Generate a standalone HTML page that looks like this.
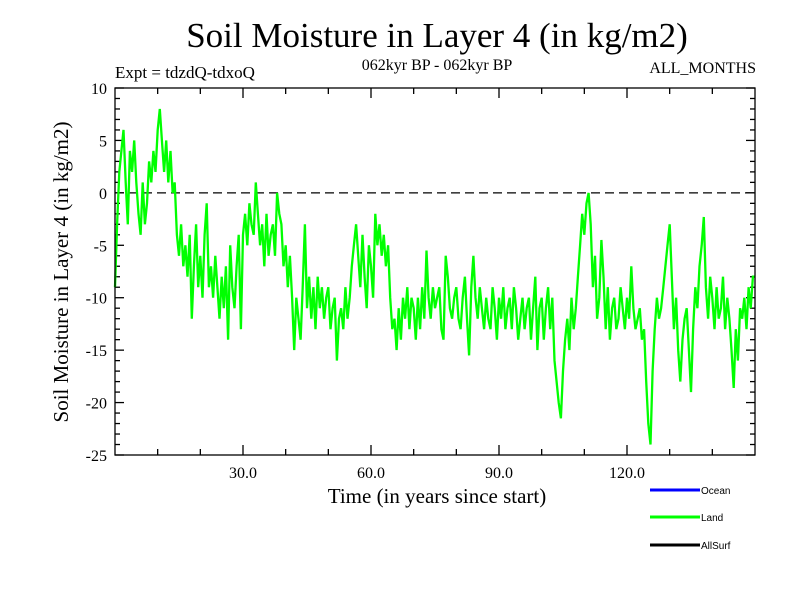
<!DOCTYPE html>
<html><head><meta charset="utf-8"><style>
body{margin:0;background:#fff;}
svg text{font-family:"Liberation Serif",serif;}
</style></head><body>
<svg id="chart" width="800" height="600" xmlns="http://www.w3.org/2000/svg">
<rect width="800" height="600" fill="#fff"/>
<text x="437" y="47" font-size="35" text-anchor="middle">Soil Moisture in Layer 4 (in kg/m2)</text>
<text x="115" y="78" font-size="17">Expt = tdzdQ-tdxoQ</text>
<text x="437" y="70" font-size="16" text-anchor="middle">062kyr BP - 062kyr BP</text>
<text x="756" y="73" font-size="16" text-anchor="end">ALL_MONTHS</text>
<text transform="translate(68,272) rotate(-90)" font-size="21" text-anchor="middle">Soil Moisture in Layer 4 (in kg/m2)</text>
<text x="437" y="503" font-size="21" text-anchor="middle">Time (in years since start)</text>
<g id="ticks"></g>
<line id="zero" stroke="#000" stroke-width="1.3" stroke-dasharray="9,5"/>
<polyline id="land" fill="none" stroke="#00ff00" stroke-width="2.3"/>
<rect x="115" y="88" width="640" height="367" fill="none" stroke="#000" stroke-width="1.3"/>
<g>
<line x1="650" y1="490" x2="700" y2="490" stroke="#0000ff" stroke-width="3"/>
<text x="701" y="494" font-size="10" style="font-family:'Liberation Sans',sans-serif">Ocean</text>
<line x1="650" y1="517" x2="700" y2="517" stroke="#00ff00" stroke-width="3"/>
<text x="701" y="521" font-size="10" style="font-family:'Liberation Sans',sans-serif">Land</text>
<line x1="650" y1="545" x2="700" y2="545" stroke="#000" stroke-width="3"/>
<text x="701" y="549" font-size="10" style="font-family:'Liberation Sans',sans-serif">AllSurf</text>
</g>
</svg>
<script>
const yTicks=[10,5,0,-5,-10,-15,-20,-25];
const xTickLabels=[30,60,90,120];
const timeStep=0.5;
const landValues=[-9,-3,2,4,6,1,-3,4,2,5,1,-2,-4,1,-3,-1,3,1,4,2,6,8,5,2,5,1,4,0,1,-4,
-6,-3,-7,-5,-8,-4,-12,-7,-3,-9,-6,-10,-4,-1,-9,-7,-10,-6,-9,-12,-8,-11,-7,-14,-5,-9,-11,-7,-4,-13,
-4,-2,-5,-1,-3,-4,1,-2,-5,-3,-7,-2,-6,-4,-3,-6,0,-2,-3,-7,-5,-9,-6,-10,-15,-10,-12,-14,-9,-3,
-11,-8,-12,-9,-13,-8,-11,-9,-12,-10,-9,-13,-11,-10,-16,-12,-11,-13,-9,-12,-10,-7,-5,-3,-6,-9,-4,-8,-11,-5,
-7,-10,-2,-5,-3,-6,-4,-7,-5,-10,-13,-12,-15,-11,-14,-10,-12,-9,-13,-10,-11,-14,-10,-13,-9,-12,-5.5,-10,-12,-9,
-11,-10,-9,-13,-14,-6,-8,-11,-12,-10,-9,-12,-13,-10,-8,-12,-15.5,-9,-6,-10,-12,-9,-11,-13,-10,-12,-13,-9,-11,-14,
-10,-12,-9,-13,-11,-10,-13,-9,-11,-14,-12,-10,-13,-11,-10,-14,-11,-8,-15,-11,
-10,-14,-11,-9,-13,-10,-16,-18,-20,-21.5,-17,-14,-12,-15,-10,-13,-11,-8,-5,-2,-4,-1,0,-3,-9,-6,-12,-10,-4.5,-8,
-13,-9,-14,-11,-10,-13,-12,-9,-11,-13,-10,-12,-7,-11,-13,-12,-11,-14,-13,-18,-22,-24,-17,-13,-10,-12,-11,-9,-7,-5,
-3,-8,-13,-10,-15,-18,-14,-12,-11,-15,-19,-13,-9,-11,-7,-5,-2.3,-9,-12,-8,-10,-13,-9,-12,-11,-8,-13,-10,-12,-15,
-18.6,-13,-16,-11,-12,-10,-13,-9,-11,-8,-8];
const X0=115,X1=755,Y0=455,Y1=88,xMin=0,xMax=150,yMin=-25,yMax=10;
function sx(v){return X0+(v-xMin)/(xMax-xMin)*(X1-X0);}
function sy(v){return Y0-(v-yMin)/(yMax-yMin)*(Y0-Y1);}
const NS="http://www.w3.org/2000/svg";
const g=document.getElementById('ticks');
function ln(x1,y1,x2,y2,name){const l=document.createElementNS(NS,'line');
l.setAttribute('x1',x1);l.setAttribute('y1',y1);l.setAttribute('x2',x2);l.setAttribute('y2',y2);
l.setAttribute('stroke','#000');l.setAttribute('stroke-width','1.3');


g.appendChild(l);}
for(let v=yMin;v<=yMax;v++){const major=v%5===0;const len=major?9:5;const y=sy(v);
ln(X0,y,X0+len,y,'y-tick');ln(X1-len,y,X1,y,'y-tick');}
yTicks.forEach(v=>{const t=document.createElementNS(NS,'text');t.setAttribute('x',X0-8);t.setAttribute('y',sy(v)+6);
t.setAttribute('text-anchor','end');t.setAttribute('font-size','16');t.textContent=v;


g.appendChild(t);});
for(let v=10;v<xMax;v+=10){const major=v%30===0;const len=major?10:6;const x=sx(v);
ln(x,Y0,x,Y0-len,'x-tick');ln(x,Y1,x,Y1+len,'x-tick');}
xTickLabels.forEach(v=>{const t=document.createElementNS(NS,'text');t.setAttribute('x',sx(v));t.setAttribute('y',Y0+23);
t.setAttribute('text-anchor','middle');t.setAttribute('font-size','16');t.textContent=v.toFixed(1);


g.appendChild(t);});
const z=document.getElementById('zero');z.setAttribute('x1',X0);z.setAttribute('x2',X1);z.setAttribute('y1',sy(0));z.setAttribute('y2',sy(0));
document.getElementById('land').setAttribute('points',landValues.map((v,i)=>sx(i*timeStep).toFixed(1)+','+sy(v).toFixed(1)).join(' '));
</script>
</body></html>
